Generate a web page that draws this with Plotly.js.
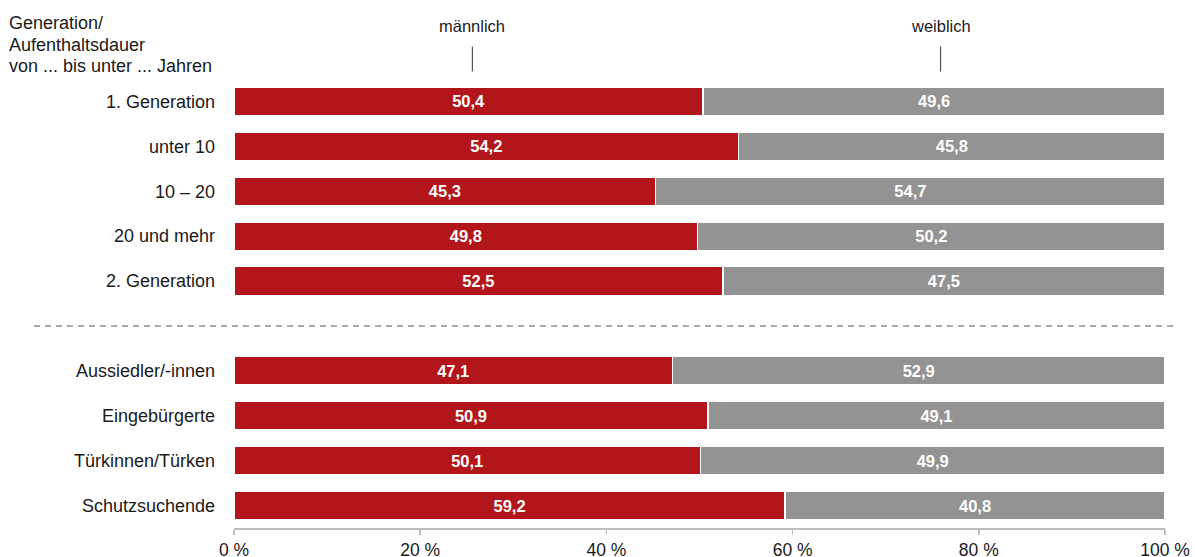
<!DOCTYPE html>
<html><head><meta charset="utf-8">
<script src="https://cdn.plot.ly/plotly-3.0.1.min.js"></script>
<style>html,body{margin:0;padding:0;background:#fff}#chart{width:1195px;height:557px}</style>
</head><body><div id="chart"></div>
<script>
const categories = ["1. Generation","unter 10","10 – 20","20 und mehr","2. Generation","Aussiedler/-innen","Eingebürgerte","Türkinnen/Türken","Schutzsuchende"];
const maennlich = [50.4,54.2,45.3,49.8,52.5,47.1,50.9,50.1,59.2];
const weiblich  = [49.6,45.8,54.7,50.2,47.5,52.9,49.1,49.9,40.8];
const seriesNames = ["männlich","weiblich"];
const headerLines = ["Generation/","Aufenthaltsdauer","von ... bis unter ... Jahren"];
const xTickVals = [0,20,40,60,80,100];
const xTickText = ["0 %","20 %","40 %","60 %","80 %","100 %"];

// slot positions: 5 rows, gap slot, 4 rows
const slots = categories.map((c,i)=> i<5 ? i : i+1);
const W=1195,H=557, mL=234, mR=30, mT=78.5, mB=28.5;
const ph = H-mT-mB, pw = W-mL-mR;
const py = px => 1 + (mT-px)/ph;
const font = "Liberation Sans, Arial, sans-serif";
const fmt = v => v.toFixed(1).replace('.', ',');

const mk = (vals,name,color)=>({
  type:'bar', orientation:'h', x:vals, y:slots, name:name,
  marker:{color:color, line:{color:'#ffffff', width:1.5}},
  width:0.64,
  text: vals.map(fmt), textposition:'inside', insidetextanchor:'middle',
  textfont:{family:font, size:16.5, color:'#ffffff', weight:'bold'},
  hoverinfo:'skip', cliponaxis:false
});

const data=[mk(maennlich,seriesNames[0],'#B3161A'), mk(weiblich,seriesNames[1],'#939393')];

const headerY = [22,44,65];
const layout={
  width:W,height:H, margin:{l:mL,r:mR,t:mT,b:mB},
  barmode:'stack', showlegend:false, bargap:0,
  paper_bgcolor:'#fff', plot_bgcolor:'#fff',
  font:{family:font, size:18, color:'#1a1a1a'},
  xaxis:{range:[0,100], tickvals:xTickVals, ticktext:xTickText, showgrid:false, zeroline:false,
    showline:true, linecolor:'#bdbdbd', linewidth:1.5, ticks:'outside', ticklen:5, tickcolor:'#bdbdbd', tickwidth:1.5,
    tickfont:{size:17.5, color:'#1a1a1a'}, fixedrange:true},
  yaxis:{range:[9.5,-0.5], tickvals:slots, ticktext:categories, showgrid:false, zeroline:false, showline:false,
    ticks:'', ticklabelstandoff:18, tickfont:{size:18,color:'#1a1a1a'}, fixedrange:true},
  shapes:[
    {type:'line', xref:'paper', yref:'y', x0:(34-mL)/pw, x1:(1178-mL)/pw, y0:5, y1:5,
      line:{color:'#a8a8a8', width:2, dash:'6px,5px'}},
    {type:'line', xref:'x', yref:'paper', x0:25.6, x1:25.6, y0:py(71), y1:py(46), line:{color:'#333', width:1}},
    {type:'line', xref:'x', yref:'paper', x0:75.9, x1:75.9, y0:py(71), y1:py(46), line:{color:'#333', width:1}}
  ],
  annotations:[
    {xref:'x', yref:'paper', x:25.6, y:py(25), text:seriesNames[0], showarrow:false, xanchor:'center', yanchor:'middle', font:{size:16.5}},
    {xref:'x', yref:'paper', x:75.9, y:py(25), text:seriesNames[1], showarrow:false, xanchor:'center', yanchor:'middle', font:{size:16.5}}
  ].concat(headerLines.map((t,i)=>({xref:'paper', yref:'paper', x:-(mL-9)/pw, y:py(headerY[i]), text:t,
      showarrow:false, xanchor:'left', yanchor:'middle', align:'left', xshift:-2, font:{size:18}})))
};
Plotly.newPlot('chart', data, layout, {displayModeBar:false, staticPlot:true});
</script></body></html>
